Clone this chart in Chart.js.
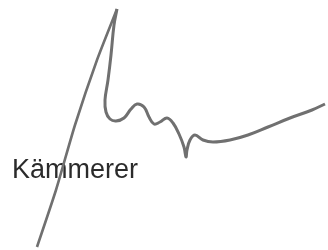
<!DOCTYPE html>
<html>
<head>
<meta charset="utf-8">
<script src="https://cdn.jsdelivr.net/npm/chart.js@4"></script>
<style>
  html, body { margin: 0; padding: 0; background: #fff; }
  canvas { display: block; }
</style>
</head>
<body>
<canvas id="sig" width="328" height="250"></canvas>
<script>
// signature name
const nameLabel = "Kämmerer";

// up-stroke, bottom left to the peak
const upX = [37, 56, 75, 97, 117];
const upY = [247, 190, 125, 60, 9];

// down-stroke, wiggles, loop and tail to the right
const tailX = [117, 114, 111, 108, 105, 106, 110, 116, 124, 131, 137, 144, 149, 154, 160, 167, 173, 179, 184, 186, 187, 190, 195, 203, 213, 230, 248, 268, 290, 312, 325];
const tailY = [9, 25, 55, 80, 100, 112, 119, 121, 118, 109, 104, 107, 117, 124, 122, 118, 123, 134, 147, 157, 150, 140, 135, 140, 142, 140, 135, 127, 118, 110, 104];

const toPoints = (xs, ys) => xs.map((x, i) => ({ x: x, y: ys[i] }));

const nameText = {
  id: "nameText",
  beforeDatasetsDraw(chart) {
    const ctx = chart.ctx;
    ctx.save();
    ctx.font = "27px 'Liberation Sans', Arial, sans-serif";
    ctx.fillStyle = "#2b2b2b";
    ctx.textBaseline = "alphabetic";
    ctx.fillText(nameLabel, 12, 178);
    ctx.restore();
  },
};

new Chart(document.getElementById("sig").getContext("2d"), {
  type: "scatter",
  data: {
    datasets: [
      {
        data: toPoints(upX, upY),
        showLine: true,
        borderColor: "#707070",
        borderWidth: 2.6,
        pointRadius: 0,
        tension: 0.2,
      },
      {
        data: toPoints(tailX, tailY),
        showLine: true,
        borderColor: "#707070",
        borderWidth: 3,
        pointRadius: 0,
        tension: 0.4,
      },
    ],
  },
  options: {
    responsive: false,
    animation: false,
    devicePixelRatio: 1,
    layout: { padding: 0 },
    plugins: { legend: { display: false }, tooltip: { enabled: false } },
    scales: {
      x: { type: "linear", min: 0, max: 328, display: false },
      y: { type: "linear", min: 0, max: 250, reverse: true, display: false },
    },
  },
  plugins: [nameText],
});
</script>
</body>
</html>
